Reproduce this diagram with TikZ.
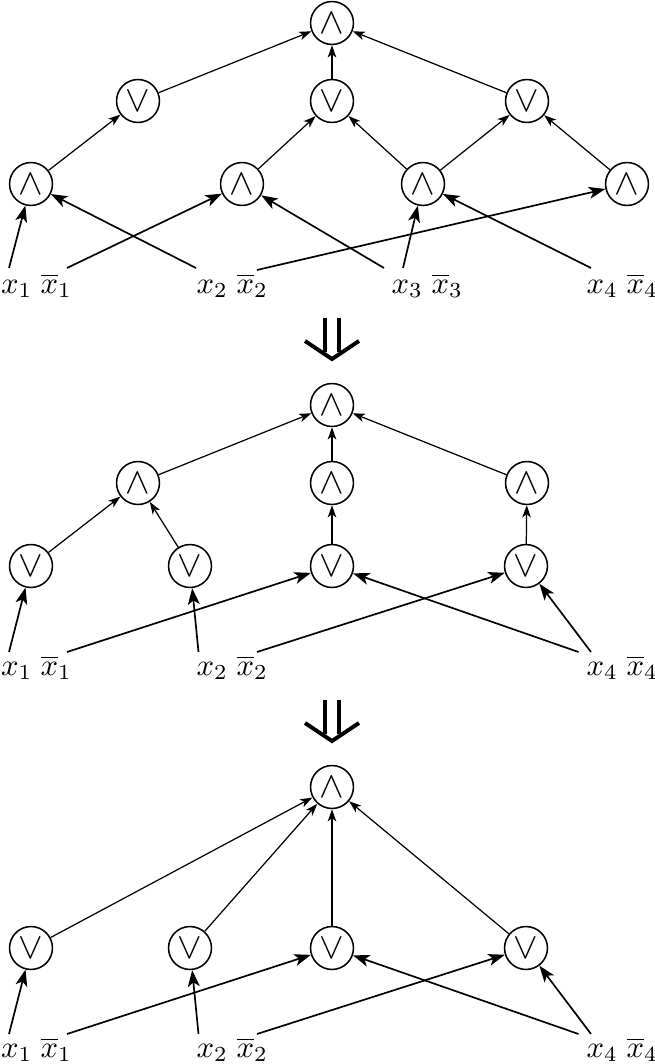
\documentclass[tikz,border=0pt]{standalone}
\usetikzlibrary{arrows.meta,calc}
\tikzset{
  gate/.style={circle, draw, line width=0.5pt, minimum size=14pt, inner sep=0pt, font=\large},
  lab/.style={inner sep=0pt, anchor=base west},
  ge/.style={-{Stealth[length=4pt,width=2.8pt,inset=1.1pt]}, line width=0.4pt},
  ie/.style={-{Stealth[length=5.4pt,width=3.9pt,inset=1.4pt]}, line width=0.55pt},
  bigarrow/.style={line width=1.3pt}
}
\begin{document}
\begin{tikzpicture}[x=0.326pt,y=-0.326pt]
\useasboundingbox (0,0) rectangle (655,1064);

% ---------------- top section ----------------
\node[gate] (t0)  at (332,23)  {$\wedge$};
\node[gate] (tv1) at (138,101) {$\vee$};
\node[gate] (tv2) at (332,101) {$\vee$};
\node[gate] (tv3) at (527,101) {$\vee$};
\node[gate] (ta1) at (31,184)  {$\wedge$};
\node[gate] (ta2) at (242,184) {$\wedge$};
\node[gate] (ta3) at (423,184) {$\wedge$};
\node[gate] (ta4) at (627,184) {$\wedge$};

\node[lab] (tx1)  at (0.5,293) {$x_1$};
\node[lab] (tnx1) at (40,293)  {$\overline{x}_1$};
\node[lab] (tx2)  at (196,293) {$x_2$};
\node[lab] (tnx2) at (236,293) {$\overline{x}_2$};
\node[lab] (tx3)  at (391,293) {$x_3$};
\node[lab] (tnx3) at (431,293) {$\overline{x}_3$};
\node[lab] (tx4)  at (586,293) {$x_4$};
\node[lab] (tnx4) at (626,293) {$\overline{x}_4$};

\draw[ge] (ta1) -- (tv1);
\draw[ge] (ta2) -- (tv2);
\draw[ge] (ta3) -- (tv2);
\draw[ge] (ta3) -- (tv3);
\draw[ge] (ta4) -- (tv3);
\draw[ge] (tv1) -- (t0);
\draw[ge] (tv2) -- (t0);
\draw[ge] (tv3) -- (t0);

\draw[ie] ($(tx1.base west)+(8.5,-25)$) -- (ta1);
\draw[ie] ($(tnx1.base west)+(27,-25)$) -- (ta2);
\draw[ie] ($(tx2.base west)+(0,-25)$) -- (ta1);
\draw[ie] ($(tnx2.base west)+(21,-23)$) -- (ta4);
\draw[ie] ($(tx3.base west)+(-7,-25)$) -- (ta2);
\draw[ie] ($(tx3.base west)+(12,-25)$) -- (ta3);
\draw[ie] ($(tx4.base west)+(5,-25)$) -- (ta3);

% ---------------- first big arrow ----------------
\draw[bigarrow] (325,318) -- (325,352);
\draw[bigarrow] (339,318) -- (339,352);
\draw[bigarrow] (305,341) -- (332,359) -- (359,341);

% ---------------- middle section ----------------
\node[gate] (m0)  at (332,405) {$\wedge$};
\node[gate] (ma1) at (138,483) {$\wedge$};
\node[gate] (ma2) at (332,483) {$\wedge$};
\node[gate] (ma3) at (527,483) {$\wedge$};
\node[gate] (mv1) at (31,566)  {$\vee$};
\node[gate] (mv2) at (190,566) {$\vee$};
\node[gate] (mv3) at (332,566) {$\vee$};
\node[gate] (mv4) at (526,566) {$\vee$};

\node[lab] (mx1)  at (0.5,675) {$x_1$};
\node[lab] (mnx1) at (40,675)  {$\overline{x}_1$};
\node[lab] (mx2)  at (196,675) {$x_2$};
\node[lab] (mnx2) at (236,675) {$\overline{x}_2$};
\node[lab] (mx4)  at (586,675) {$x_4$};
\node[lab] (mnx4) at (626,675) {$\overline{x}_4$};

\draw[ge] (mv1) -- (ma1);
\draw[ge] (mv2) -- (ma1);
\draw[ge] (mv3) -- (ma2);
\draw[ge] (mv4) -- (ma3);
\draw[ge] (ma1) -- (m0);
\draw[ge] (ma2) -- (m0);
\draw[ge] (ma3) -- (m0);

\draw[ie] ($(mx1.base west)+(8.5,-23)$) -- (mv1);
\draw[ie] ($(mnx1.base west)+(27,-23)$) -- (mv3);
\draw[ie] ($(mx2.base west)+(2.5,-23)$) -- (mv2);
\draw[ie] ($(mnx2.base west)+(21,-23)$) -- (mv4);
\draw[ie] ($(mx4.base west)+(-7.5,-23)$) -- (mv3);
\draw[ie] ($(mx4.base west)+(5,-23)$) -- (mv4);

% ---------------- second big arrow ----------------
\draw[bigarrow] (325,700) -- (325,734);
\draw[bigarrow] (339,700) -- (339,734);
\draw[bigarrow] (305,723) -- (332,741) -- (359,723);

% ---------------- bottom section ----------------
\node[gate] (b0)  at (332,787) {$\wedge$};
\node[gate] (bv1) at (31,948)  {$\vee$};
\node[gate] (bv2) at (190,948) {$\vee$};
\node[gate] (bv3) at (332,948) {$\vee$};
\node[gate] (bv4) at (526,948) {$\vee$};

\node[lab] (bx1)  at (0.5,1057) {$x_1$};
\node[lab] (bnx1) at (40,1057)  {$\overline{x}_1$};
\node[lab] (bx2)  at (196,1057) {$x_2$};
\node[lab] (bnx2) at (236,1057) {$\overline{x}_2$};
\node[lab] (bx4)  at (586,1057) {$x_4$};
\node[lab] (bnx4) at (626,1057) {$\overline{x}_4$};

\draw[ge] (bv1) -- (b0);
\draw[ge] (bv2) -- (b0);
\draw[ge] (bv3) -- (b0);
\draw[ge] (bv4) -- (b0);

\draw[ie] ($(bx1.base west)+(8.5,-23)$) -- (bv1);
\draw[ie] ($(bnx1.base west)+(27,-23)$) -- (bv3);
\draw[ie] ($(bx2.base west)+(2.5,-23)$) -- (bv2);
\draw[ie] ($(bnx2.base west)+(21,-23)$) -- (bv4);
\draw[ie] ($(bx4.base west)+(-7.5,-23)$) -- (bv3);
\draw[ie] ($(bx4.base west)+(5,-23)$) -- (bv4);
\end{tikzpicture}
\end{document}
